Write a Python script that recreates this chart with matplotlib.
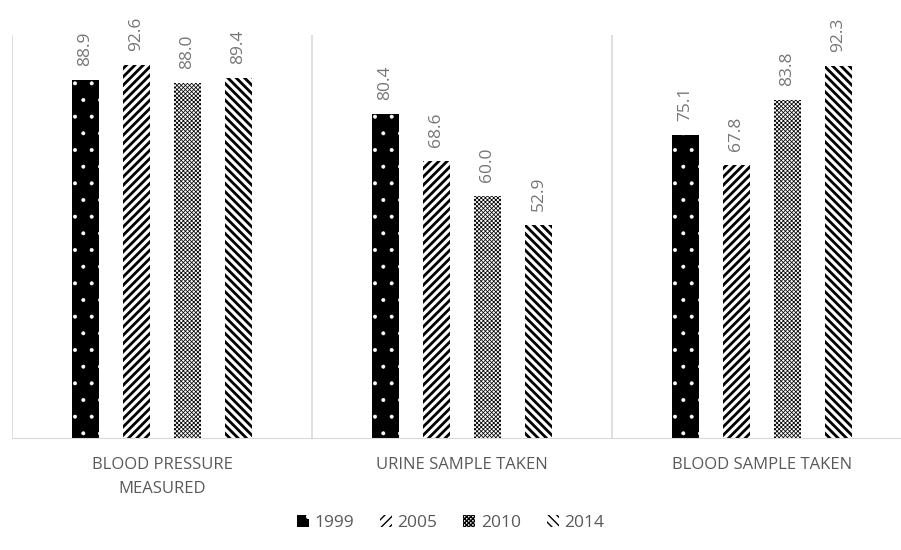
import numpy as np
import matplotlib
matplotlib.use("Agg")
import matplotlib.pyplot as plt

categories = ["BLOOD PRESSURE\nMEASURED", "URINE SAMPLE TAKEN", "BLOOD SAMPLE TAKEN"]
years = ["1999", "2005", "2010", "2014"]
v1999 = [88.9, 80.4, 75.1]
v2005 = [92.6, 68.6, 67.8]
v2010 = [88.0, 60.0, 83.8]
v2014 = [89.4, 52.9, 92.3]

plt.rcParams["font.family"] = ["Open Sans", "DejaVu Sans"]
grey = "#595959"

fig = plt.figure(figsize=(9.01, 5.5), dpi=100)
ax = fig.add_axes([12 / 901, 1 - 437.5 / 550, 900 / 901, 402.5 / 550])

x = np.arange(len(categories))
offsets = [-0.255, -0.085, 0.085, 0.255]
width = 0.09
styles = [
    dict(color="black", edgecolor="white", hatch="."),
    dict(color="white", edgecolor="black", hatch="////"),
    dict(color="white", edgecolor="black", hatch="xxxxxxxx"),
    dict(color="white", edgecolor="black", hatch="\\\\\\\\"),
]
hlw = [0.4, 2.0, 0.55, 2.0]

for vals, year, off, st, lw in zip([v1999, v2005, v2010, v2014], years, offsets, styles, hlw):
    bars = ax.bar(x + off, vals, width, label=year, linewidth=0, hatch_linewidth=lw, **st)
    for b, v in zip(bars, vals):
        ax.annotate(f"{v:.1f}", (b.get_x() + b.get_width() / 2, b.get_height()),
                    xytext=(0, 10), textcoords="offset points", rotation=90,
                    ha="center", va="bottom", color="#767676", fontsize=12.5)

ax.set_xlim(-0.5, 2.5)
ax.set_ylim(0, 100)
ax.set_yticks([])
for s in ["top", "right", "left"]:
    ax.spines[s].set_visible(False)
ax.spines["bottom"].set_color("#d9d9d9")
for b in [-0.5, 0.5, 1.5, 2.5]:
    ax.axvline(b, color="#d9d9d9", linewidth=1.2)

ax.set_xticks(x)
ax.set_xticklabels(categories, color=grey, fontsize=12, linespacing=1.7)
ax.tick_params(axis="x", length=0, pad=14)

fig.legend(loc="center", bbox_to_anchor=(0.5, 1 - 523 / 550), ncol=4, frameon=False,
           fontsize=12.5, handlelength=0.7, handleheight=0.7, handletextpad=0.3,
           columnspacing=1.5, labelcolor=grey)

fig.savefig("out.png", dpi=100)
